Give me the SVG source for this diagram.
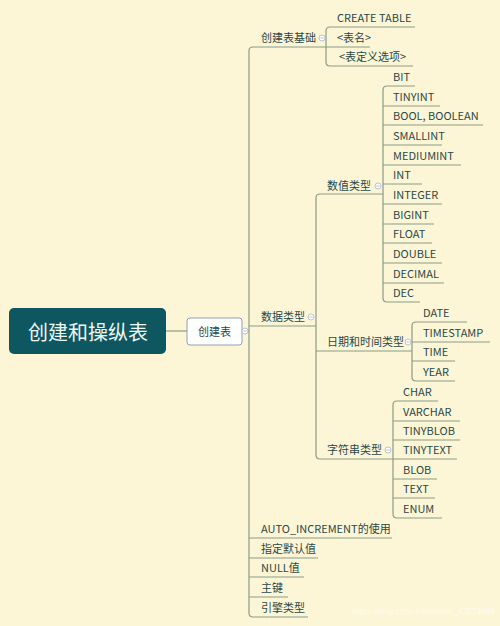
<svg xmlns="http://www.w3.org/2000/svg" width="500" height="626" viewBox="0 0 500 626">
<style>
.bg{fill:#fdf6d6}
.ln{fill:none;stroke:#8a9b88;stroke-width:1.2}
.t{font-family:"Noto Sans CJK SC","Noto Sans",sans-serif;font-size:11px;fill:#2a4848}
.c{fill:#ffffff;stroke:#a9b6c8;stroke-width:0.8}
.m{stroke:#a9b6c8;stroke-width:0.8}
.wm{font-family:"Liberation Sans",sans-serif;font-size:8.4px;fill:#ffffff;fill-opacity:0.55}
</style>
<rect class="bg" x="0" y="0" width="500" height="626"/>
<g id="connectors">
<line class="ln" x1="166" y1="331" x2="187" y2="331"/>
<line class="ln" x1="241" y1="331" x2="249" y2="331"/>
<path class="ln" d="M370 47 H253 Q249 47 249 51 V613 Q249 617 253 617 H308"/>
<path class="ln" d="M249 326 H316"/>
<path class="ln" d="M249 538 H392 M249 558 H318 M249 577 H304 M249 597 H288"/>
<path class="ln" d="M415 27 H330 Q326 27 326 31 V62 Q326 66 330 66 H413"/>
<path class="ln" d="M383 194 H320 Q316 194 316 198 V455 Q316 459 320 459 H457"/>
<path class="ln" d="M316 351 H412"/>
<path class="ln" d="M415 86 H387 Q383 86 383 90 V298 Q383 302 387 302 H420"/>
<path class="ln" d="M383 106 H440 M383 125 H483 M383 145 H442 M383 165 H461 M383 184 H422 M383 204 H442 M383 224 H434 M383 243 H432 M383 263 H442 M383 283 H444"/>
<path class="ln" d="M467 322 H416 Q412 322 412 326 V377 Q412 381 416 381 H455"/>
<path class="ln" d="M412 342 H490 M412 361 H455"/>
<path class="ln" d="M438 401 H397 Q393 401 393 405 V514 Q393 518 397 518 H442"/>
<path class="ln" d="M393 421 H460 M393 440 H460 M393 479 H437 M393 498 H435"/>
</g>
<g id="root">
<rect x="9" y="308" width="157" height="46" rx="5" fill="#0e5660"/>
<text x="88" y="340" text-anchor="middle" font-family="'Noto Sans CJK SC',sans-serif" font-size="20" fill="#eef6f2">创建和操纵表</text>
</g>
<g id="n-chuangjianbiao">
<rect x="187" y="318" width="55" height="27" rx="3" fill="#ffffff" stroke="#8f9fb3" stroke-width="1"/>
<text x="214.5" y="336" text-anchor="middle" class="t" font-size="12.5">创建表</text>
<circle class="c" cx="245" cy="331" r="3"/><line class="m" x1="243.3" y1="331" x2="246.7" y2="331"/>
</g>
<g id="n-jichu"><text class="t" x="261" y="42">创建表基础</text><circle class="c" cx="322" cy="38" r="3"/><line class="m" x1="320.3" y1="38" x2="323.7" y2="38"/></g>
<g id="n-create"><text class="t" x="337" y="22">CREATE TABLE</text></g>
<g id="n-biaoming"><text class="t" x="337" y="42">&lt;表名&gt;</text></g>
<g id="n-xuanxiang"><text class="t" x="339" y="61">&lt;表定义选项&gt;</text></g>
<g id="n-shujuleixing"><text class="t" x="261" y="321">数据类型</text><circle class="c" cx="311" cy="317" r="3"/><line class="m" x1="309.3" y1="317" x2="312.7" y2="317"/></g>
<g id="n-shuzhi"><text class="t" x="327" y="190">数值类型</text><circle class="c" cx="378" cy="186" r="3"/><line class="m" x1="376.3" y1="186" x2="379.7" y2="186"/></g>
<g id="n-bit"><text class="t" x="393" y="81">BIT</text></g>
<g id="n-tinyint"><text class="t" x="393" y="101">TINYINT</text></g>
<g id="n-bool"><text class="t" x="393" y="120">BOOL, BOOLEAN</text></g>
<g id="n-smallint"><text class="t" x="393" y="140">SMALLINT</text></g>
<g id="n-mediumint"><text class="t" x="393" y="160">MEDIUMINT</text></g>
<g id="n-int"><text class="t" x="393" y="179">INT</text></g>
<g id="n-integer"><text class="t" x="393" y="199">INTEGER</text></g>
<g id="n-bigint"><text class="t" x="393" y="219">BIGINT</text></g>
<g id="n-float"><text class="t" x="393" y="238">FLOAT</text></g>
<g id="n-double"><text class="t" x="393" y="258">DOUBLE</text></g>
<g id="n-decimal"><text class="t" x="393" y="278">DECIMAL</text></g>
<g id="n-dec"><text class="t" x="393" y="297">DEC</text></g>
<g id="n-riqi"><text class="t" x="327" y="346">日期和时间类型</text><circle class="c" cx="408" cy="342" r="3"/><line class="m" x1="406.3" y1="342" x2="409.7" y2="342"/></g>
<g id="n-date"><text class="t" x="423" y="317">DATE</text></g>
<g id="n-timestamp"><text class="t" x="423" y="337">TIMESTAMP</text></g>
<g id="n-time"><text class="t" x="423" y="356">TIME</text></g>
<g id="n-year"><text class="t" x="423" y="376">YEAR</text></g>
<g id="n-zifuchuan"><text class="t" x="327" y="454">字符串类型</text><circle class="c" cx="388" cy="450" r="3"/><line class="m" x1="386.3" y1="450" x2="389.7" y2="450"/></g>
<g id="n-char"><text class="t" x="403" y="396">CHAR</text></g>
<g id="n-varchar"><text class="t" x="403" y="416">VARCHAR</text></g>
<g id="n-tinyblob"><text class="t" x="403" y="435">TINYBLOB</text></g>
<g id="n-tinytext"><text class="t" x="403" y="454">TINYTEXT</text></g>
<g id="n-blob"><text class="t" x="403" y="474">BLOB</text></g>
<g id="n-text"><text class="t" x="403" y="493">TEXT</text></g>
<g id="n-enum"><text class="t" x="403" y="513">ENUM</text></g>
<g id="n-auto"><text class="t" x="261" y="533">AUTO_INCREMENT的使用</text></g>
<g id="n-moren"><text class="t" x="261" y="553">指定默认值</text></g>
<g id="n-null"><text class="t" x="261" y="572">NULL值</text></g>
<g id="n-zhujian"><text class="t" x="261" y="592">主键</text></g>
<g id="n-yinqing"><text class="t" x="261" y="612">引擎类型</text></g>
<text class="wm" x="495" y="614" text-anchor="end">https://blog.csdn.net/weixin_43574069</text>
</svg>
